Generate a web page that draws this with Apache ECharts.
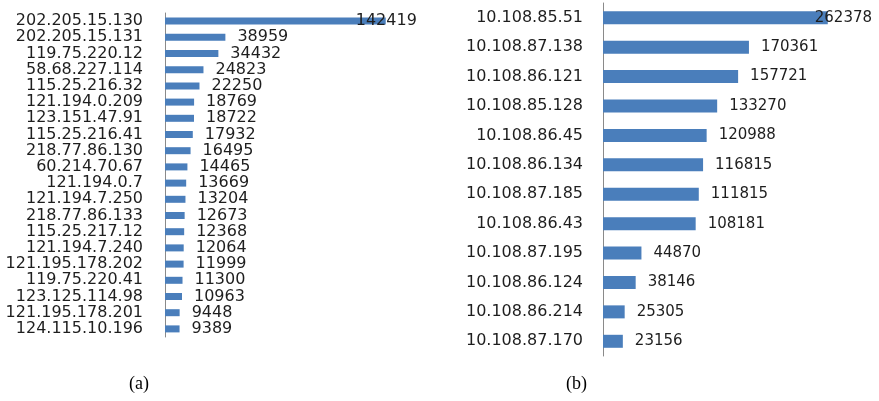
<!DOCTYPE html>
<html>
<head>
<meta charset="utf-8">
<script src="https://cdn.jsdelivr.net/npm/echarts@6/dist/echarts.min.js"></script>
<style>
  html, body { margin: 0; padding: 0; background: #ffffff; }
  #chart { width: 879px; height: 401px; }
</style>
</head>
<body>
<div id="chart"></div>
<script>
// Panel (a): source hosts and their counts
const hostsA = [
  '202.205.15.130', '202.205.15.131', '119.75.220.12', '58.68.227.114',
  '115.25.216.32', '121.194.0.209', '123.151.47.91', '115.25.216.41',
  '218.77.86.130', '60.214.70.67', '121.194.0.7', '121.194.7.250',
  '218.77.86.133', '115.25.217.12', '121.194.7.240', '121.195.178.202',
  '119.75.220.41', '123.125.114.98', '121.195.178.201', '124.115.10.196'
];
const countsA = [
  142419, 38959, 34432, 24823, 22250, 18769, 18722, 17932, 16495, 14465,
  13669, 13204, 12673, 12368, 12064, 11999, 11300, 10963, 9448, 9389
];

// Panel (b): internal hosts and their counts
const hostsB = [
  '10.108.85.51', '10.108.87.138', '10.108.86.121', '10.108.85.128',
  '10.108.86.45', '10.108.86.134', '10.108.87.185', '10.108.86.43',
  '10.108.87.195', '10.108.86.124', '10.108.86.214', '10.108.87.170'
];
const countsB = [
  262378, 170361, 157721, 133270, 120988, 116815, 111815, 108181,
  44870, 38146, 25305, 23156
];

const captions = ['(a)', '(b)'];

const BAR_COLOR = '#4a7ebb';
const AXIS_COLOR = '#8a8a8a';
const TEXT_COLOR = '#1e1e1e';
const FONT = '"DejaVu Sans", sans-serif';

// The longest bar's label is pulled back so it stays inside the plot
function barData(values, pullBack) {
  return values.map((v, i) => i === 0
    ? { value: v, label: { offset: [pullBack, 0] } }
    : v);
}

function categoryAxis(gridIndex, data, fontSize, margin) {
  return {
    gridIndex: gridIndex,
    type: 'category',
    data: data,
    inverse: true,
    axisLine: { show: true, lineStyle: { color: AXIS_COLOR, width: 1 } },
    axisTick: { show: false },
    splitLine: { show: false },
    axisLabel: {
      color: TEXT_COLOR,
      fontFamily: FONT,
      fontSize: fontSize,
      margin: margin,
      interval: 0
    }
  };
}

const chart = echarts.init(document.getElementById('chart'), null, { renderer: 'canvas' });

chart.setOption({
  animation: false,
  backgroundColor: '#ffffff',
  grid: [
    { left: 165, top: 13, width: 248, height: 324 },
    { left: 603, top: 3, width: 257, height: 353 }
  ],
  xAxis: [
    { gridIndex: 0, type: 'value', min: 0, max: 160000, show: false },
    { gridIndex: 1, type: 'value', min: 0, max: 300000, show: false }
  ],
  yAxis: [
    categoryAxis(0, hostsA, 16, 22),
    categoryAxis(1, hostsB, 16, 20)
  ],
  series: [
    {
      type: 'bar',
      xAxisIndex: 0,
      yAxisIndex: 0,
      data: barData(countsA, -42),
      barWidth: 7,
      itemStyle: { color: BAR_COLOR },
      label: {
        show: true,
        position: 'right',
        distance: 12,
        color: TEXT_COLOR,
        fontFamily: FONT,
        fontSize: 16
      }
    },
    {
      type: 'bar',
      xAxisIndex: 1,
      yAxisIndex: 1,
      data: barData(countsB, -25),
      barWidth: 13,
      itemStyle: { color: BAR_COLOR },
      label: {
        show: true,
        position: 'right',
        distance: 12,
        color: TEXT_COLOR,
        fontFamily: FONT,
        fontSize: 15
      }
    }
  ],
  graphic: [
    {
      type: 'text',
      left: 129,
      top: 375,
      style: {
        text: captions[0],
        font: '18px "Liberation Serif", "Times New Roman", serif',
        fill: '#000000'
      }
    },
    {
      type: 'text',
      left: 566,
      top: 375,
      style: {
        text: captions[1],
        font: '18px "Liberation Serif", "Times New Roman", serif',
        fill: '#000000'
      }
    }
  ]
});
</script>
</body>
</html>
